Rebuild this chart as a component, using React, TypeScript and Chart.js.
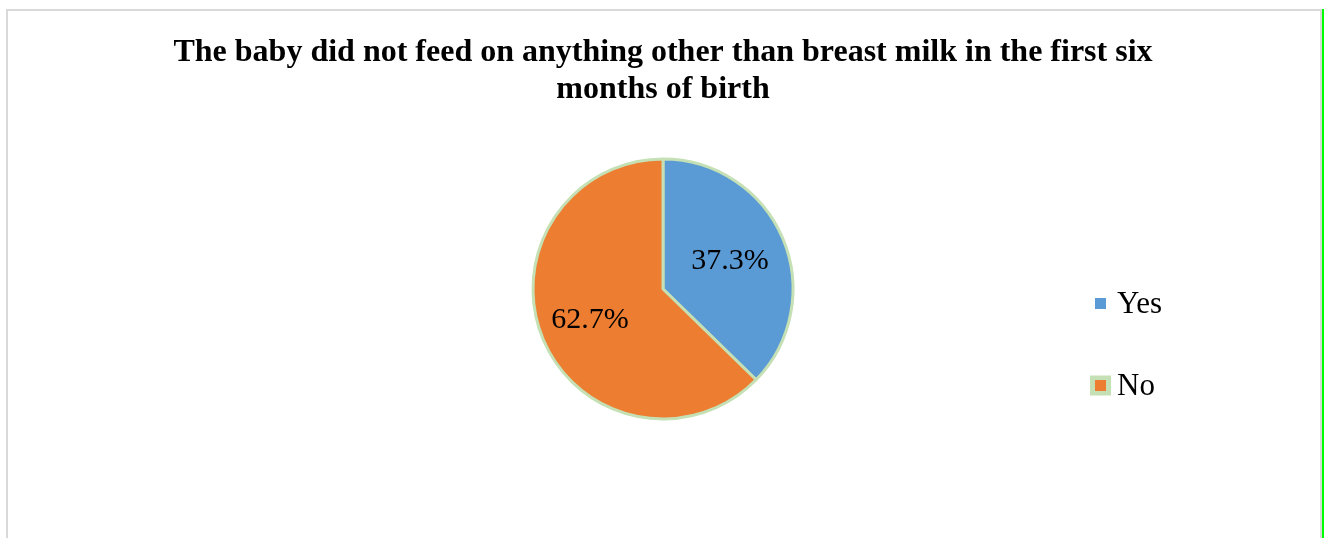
import React, { useEffect, useRef } from "react";
import { Chart, registerables } from "chart.js";

Chart.register(...registerables);

const titleLines = [
  "The baby did not feed on anything other than breast milk in the first six",
  "months of birth",
];
const categories = ["Yes", "No"];
const values = [37.3, 62.7];
const sliceColors = ["#5B9BD5", "#ED7D31"];
const valueLabels = ["37.3%", "62.7%"];

const SERIF = "'Liberation Serif', 'Times New Roman', serif";

const sliceLabelPlugin = {
  id: "sliceLabels",
  afterDatasetsDraw(chart: any) {
    const meta = chart.getDatasetMeta(0);
    const ctx = chart.ctx;
    const factors = [0.56, 0.61];
    ctx.save();
    ctx.font = `30px ${SERIF}`;
    ctx.fillStyle = "#000";
    ctx.textAlign = "center";
    ctx.textBaseline = "middle";
    meta.data.forEach((arc: any, i: number) => {
      const p = arc.getProps(["x", "y", "startAngle", "endAngle", "outerRadius"], true);
      const mid = (p.startAngle + p.endAngle) / 2;
      const r = p.outerRadius * factors[i];
      ctx.fillText(valueLabels[i], p.x + Math.cos(mid) * r, p.y + Math.sin(mid) * r);
    });
    ctx.restore();
  },
};

const legendPlugin = {
  id: "customLegend",
  afterDraw(chart: any) {
    const ctx = chart.ctx;
    const labels = chart.data.labels as string[];
    const colors = chart.data.datasets[0].backgroundColor as string[];
    const x0 = 1095;
    const ys = [303.5, 385.5];
    ctx.save();
    labels.forEach((lab, i) => {
      const y = ys[i];
      if (i === 1) {
        ctx.fillStyle = "#C5E0B4";
        ctx.fillRect(x0 - 5, y - 10, 21, 20);
      }
      ctx.fillStyle = colors[i];
      ctx.fillRect(x0, y - 5.5, 11, 11);
      ctx.fillStyle = "#000";
      ctx.font = `31px ${SERIF}`;
      ctx.textAlign = "left";
      ctx.textBaseline = "middle";
      ctx.fillText(lab, x0 + 22, y + 1);
    });
    ctx.restore();
  },
};

export default function App() {
  const ref = useRef<HTMLCanvasElement | null>(null);
  useEffect(() => {
    if (!ref.current) return;
    const chart = new Chart(ref.current, {
      type: "pie",
      data: {
        labels: categories,
        datasets: [
          {
            data: values,
            backgroundColor: sliceColors,
            borderColor: "#C5E0B4",
            borderWidth: 3,
          },
        ],
      },
      options: {
        animation: false,
        responsive: false,
        devicePixelRatio: 1,
        layout: { padding: { top: 0, bottom: 117.5, left: 1, right: 0 } },
        plugins: {
          legend: { display: false },
          tooltip: { enabled: false },
          title: {
            display: true,
            text: titleLines,
            color: "#000",
            font: { family: SERIF, size: 32, weight: "bold", lineHeight: "37px" as any },
            padding: { top: 34.5, bottom: 49 },
          },
        },
      },
      plugins: [sliceLabelPlugin, legendPlugin],
    });
    return () => chart.destroy();
  }, []);

  return (
    <div style={{ position: "absolute", left: 0, top: 0, width: 1325, height: 538, overflow: "hidden", background: "#fff" }}>
      <div
        style={{
          position: "absolute",
          left: 6,
          top: 9,
          width: 1312,
          height: 600,
          borderLeft: "2px solid #D9D9D9",
          borderTop: "2px solid #D9D9D9",
          borderRight: "2px solid #D9D9D9",
        }}
      />
      <div style={{ position: "absolute", left: 1322, top: 9, width: 2, height: 600, background: "#00FF00" }} />
      <canvas ref={ref} width={1325} height={538} style={{ position: "absolute", left: 0, top: 0 }} />
    </div>
  );
}
